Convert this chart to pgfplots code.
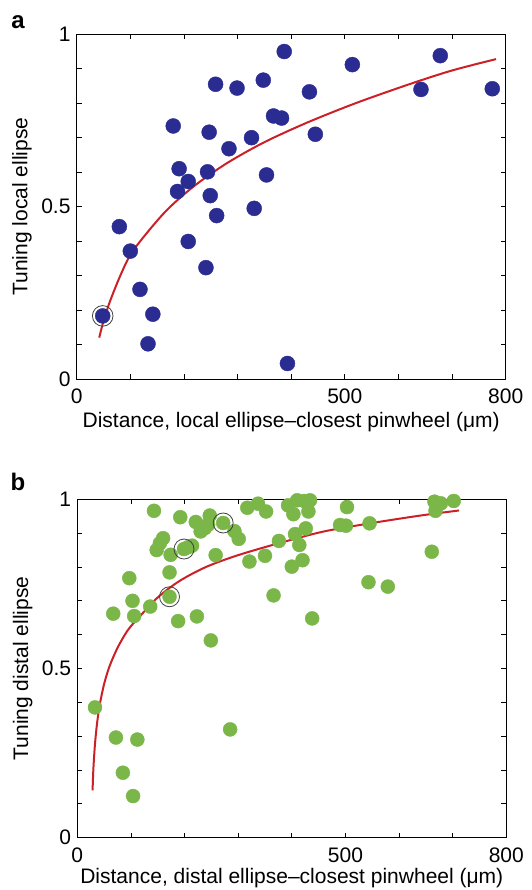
\documentclass[border=0pt]{standalone}
\usepackage{fontspec}
\setmainfont{Liberation Sans}
\usepackage{pgfplots}
\pgfplotsset{compat=1.18}
\definecolor{dotblue}{RGB}{42,44,145}
\definecolor{dotgreen}{RGB}{122,182,72}
\definecolor{fitred}{RGB}{204,32,39}
\pgfplotsset{panel/.style={
  scale only axis, width=429pt, anchor=south west,
  xmin=0, xmax=800, ymin=0, ymax=1,
  xtick={0,100,...,800}, xticklabels={0,,,,,500,,,800},
  ytick={0,0.1,0.2,0.3,0.4,0.5,0.6,0.7,0.8,0.9,1}, yticklabels={0,,,,,0.5,,,,,1},
  tick align=inside, major tick length=5pt,
  tick style={black, line width=0.8pt},
  axis line style={black, line width=0.9pt},
  ticklabel style={font=\fontsize{21}{24}\selectfont, inner sep=1pt},
  xticklabel style={yshift=-9pt},
  yticklabel style={xshift=-5pt},
  label style={font=\fontsize{21}{24}\selectfont},
  /pgf/number format/assume math mode=true,
  clip=false,
  ylabel style={at={(axis description cs:-0.1275,0.5)}, anchor=center},
}}
\begin{document}
\begin{tikzpicture}
\useasboundingbox (0,0) rectangle (531pt,890pt);
% ---------------- panel a ----------------
\begin{axis}[panel, at={(76.7pt,511pt)}, height=344.7pt,
  xlabel={Distance, local ellipse–closest pinwheel (μm)},
  ylabel={Tuning local ellipse},
  xlabel style={at={(axis description cs:0.5,-0.124)}, anchor=center}]
\addplot[only marks, color=dotblue, mark=*, mark size=7.5pt, mark options={draw=none, fill=dotblue}] coordinates {
(48.5,0.183) (79.5,0.442) (100,0.371) (118,0.260) (142,0.188) (133,0.102)
(180,0.734) (191,0.610) (188,0.544) (208,0.573) (208,0.399)
(259,0.855) (247,0.716) (244,0.601) (249,0.532) (261,0.474) (241,0.323)
(284,0.668) (299,0.844) (326,0.700) (331,0.495) (348,0.867)
(367,0.763) (382,0.757) (354,0.592) (387,0.950) (393,0.045)
(434,0.833) (445,0.710) (514,0.912) (642,0.840) (678,0.938) (775,0.842)
};
\addplot[only marks, mark=o, mark size=10.3pt, mark options={draw=black!75, line width=0.8pt}] coordinates {(48.5,0.183)};
\addplot[fitred, line width=2pt, smooth] coordinates {
(42,0.12) (50,0.168) (62,0.225) (80,0.295) (100,0.36) (130,0.422) (170,0.493)
(220,0.561) (280,0.626) (350,0.687) (430,0.744) (520,0.800) (620,0.855)
(700,0.895) (782,0.928)
};
\end{axis}
% ---------------- panel b ----------------
\begin{axis}[panel, at={(77.3pt,52.3pt)}, height=338.4pt,
  xlabel={Distance, distal ellipse–closest pinwheel (μm)},
  ylabel={Tuning distal ellipse},
  xlabel style={at={(axis description cs:0.5,-0.120)}, anchor=center}]
\addplot[only marks, color=dotgreen, mark=*, mark size=7pt, mark options={draw=none, fill=dotgreen}] coordinates {
(33,0.385) (67,0.662) (72,0.296) (85,0.192) (104,0.123) (112,0.290)
(97,0.767) (103,0.700) (106,0.655) (136,0.683) (143,0.966) (148,0.850)
(154,0.870) (160,0.885) (174,0.836) (172,0.784) (172,0.712) (188,0.640)
(192,0.947) (199,0.853) (206,0.858) (214,0.863) (223,0.654) (221,0.933)
(230,0.905) (238,0.915) (247,0.952) (244,0.925) (249,0.583) (258,0.835)
(272,0.930) (285,0.320) (293,0.906) (301,0.883) (317,0.975) (337,0.987)
(352,0.964) (321,0.816) (350,0.833) (366,0.716) (376,0.877) (393,0.982)
(403,0.956) (410,0.997) (400,0.801) (406,0.897) (414,0.865) (420,0.820)
(426,0.914) (423,0.995) (434,0.997) (431,0.964) (438,0.648) (503,0.977)
(490,0.924) (501,0.922) (545,0.929) (543,0.755) (579,0.742) (661,0.845)
(666,0.993) (668,0.966) (678,0.988) (702,0.995)
};
\addplot[only marks, mark=o, mark size=10pt, mark options={draw=black!75, line width=0.8pt}] coordinates {(172,0.712) (199,0.853) (272,0.930)};
\addplot[fitred, line width=2pt, smooth] coordinates {
(28.5,0.14) (30,0.204) (33,0.277) (37,0.340) (42,0.394) (50,0.454) (60,0.506)
(75,0.561) (95,0.615) (120,0.66) (150,0.71) (190,0.758) (240,0.80) (300,0.835)
(380,0.872) (460,0.905) (550,0.930) (640,0.952) (712,0.967)
};
\end{axis}
\node[font=\bfseries\fontsize{24}{26}\selectfont] at (18pt,868pt) {a};
\node[font=\bfseries\fontsize{24}{26}\selectfont] at (18pt,408pt) {b};
\end{tikzpicture}
\end{document}
